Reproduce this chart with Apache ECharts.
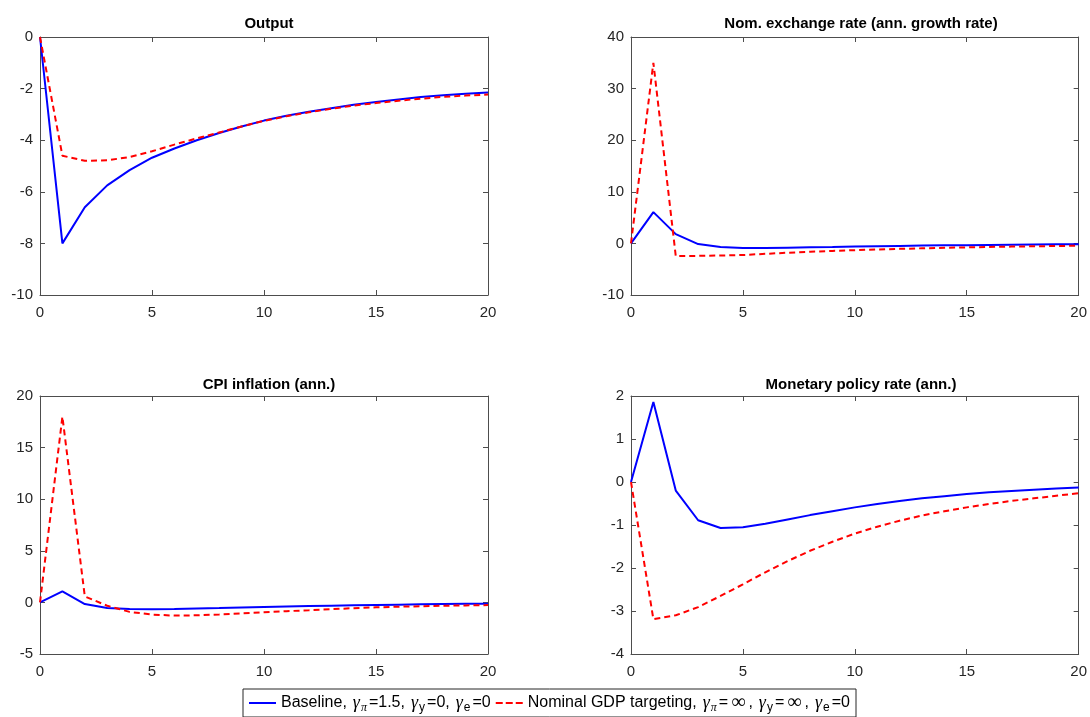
<!DOCTYPE html>
<html>
<head>
<meta charset="utf-8">
<script src="https://cdn.jsdelivr.net/npm/echarts@6/dist/echarts.min.js"></script>
<style>
html,body{margin:0;padding:0;background:#fff;}
#main{width:1090px;height:717px;}
</style>
</head>
<body>
<div id="main"></div>
<script>
// ---- Data ----
const periods = [0,1,2,3,4,5,6,7,8,9,10,11,12,13,14,15,16,17,18,19,20];

const panelTitles = ['Output','Nom. exchange rate (ann. growth rate)','CPI inflation (ann.)','Monetary policy rate (ann.)'];
const seriesNames = ['Baseline','Nominal GDP targeting'];

const outputBaseline = [0,-8.0,-6.6,-5.75,-5.16,-4.68,-4.32,-4.0,-3.72,-3.47,-3.24,-3.05,-2.9,-2.76,-2.63,-2.52,-2.42,-2.33,-2.26,-2.2,-2.15];
const outputNGDP     = [0,-4.6,-4.8,-4.78,-4.65,-4.43,-4.17,-3.93,-3.7,-3.47,-3.25,-3.07,-2.92,-2.78,-2.66,-2.56,-2.47,-2.39,-2.32,-2.27,-2.23];

const fxBaseline = [0,6.06,1.8,-0.13,-0.7,-0.9,-0.88,-0.82,-0.75,-0.68,-0.6,-0.54,-0.48,-0.43,-0.38,-0.34,-0.3,-0.26,-0.22,-0.18,-0.15];
const fxNGDP     = [0,35.0,-2.45,-2.42,-2.35,-2.25,-2.02,-1.81,-1.63,-1.46,-1.31,-1.18,-1.06,-0.95,-0.85,-0.77,-0.69,-0.62,-0.56,-0.5,-0.45];

const cpiBaseline = [0,1.06,-0.16,-0.55,-0.65,-0.66,-0.63,-0.59,-0.55,-0.5,-0.45,-0.4,-0.36,-0.32,-0.28,-0.25,-0.22,-0.19,-0.16,-0.14,-0.12];
const cpiNGDP     = [0,18.0,0.58,-0.32,-0.92,-1.18,-1.28,-1.25,-1.17,-1.06,-0.95,-0.85,-0.76,-0.66,-0.56,-0.48,-0.42,-0.37,-0.33,-0.29,-0.26];

const rateBaseline = [0,1.86,-0.2,-0.89,-1.07,-1.05,-0.97,-0.87,-0.77,-0.68,-0.59,-0.51,-0.44,-0.38,-0.33,-0.28,-0.24,-0.21,-0.18,-0.15,-0.13];
const rateNGDP     = [0,-3.19,-3.1,-2.91,-2.65,-2.38,-2.1,-1.84,-1.6,-1.39,-1.2,-1.04,-0.9,-0.78,-0.68,-0.59,-0.51,-0.44,-0.38,-0.32,-0.26];

const yRanges = [[-10,0,2],[-10,40,10],[-5,20,5],[-4,2,1]];
const panelData = [[outputBaseline,outputNGDP],[fxBaseline,fxNGDP],[cpiBaseline,cpiNGDP],[rateBaseline,rateNGDP]];

// ---- Layout ----
const grids = [
  {left:40, top:37, width:448, height:258},
  {left:631, top:37, width:450, height:258},
  {left:40, top:396, width:448, height:258},
  {left:631, top:396, width:450, height:258}
];
const titleTops = [11,11,372,372];

const FONT = '"Liberation Sans", Arial, Helvetica, sans-serif';
const SERIF = '"Liberation Serif","DejaVu Serif",serif';
const axisColor = '#4d4d4d';
const labelColor = '#262626';

const option = {
  animation:false,
  backgroundColor:'#fff',
  title: panelTitles.map((t,i)=>({
    text:t,
    left: grids[i].left + grids[i].width/2,
    top: titleTops[i],
    textAlign:'center',
    textStyle:{fontFamily:FONT,fontSize:15,fontWeight:'bold',color:'#000'}
  })),
  grid: grids.map(g=>Object.assign({containLabel:false},g)),
  xAxis: [],
  yAxis: [],
  series: [],
  legend: {
    data: [
      {name:seriesNames[0], icon:'path://M0,0H27V2H0Z'},
      {name:seriesNames[1], icon:'path://M0,0H7V2H0Z M10,0H17V2H10Z M20,0H27V2H20Z'}
    ],
    left: 243,
    top: 689,
    orient:'horizontal',
    itemWidth:27,
    itemHeight:2,
    itemGap:5,
    padding:[3,6,3,6],
    borderColor:'#262626',
    borderWidth:1,
    backgroundColor:'#fff',
    selectedMode:false,
    textStyle:{
      fontFamily:FONT, fontSize:16, color:'#000', lineHeight:22,
      rich:{
        g:{fontFamily:SERIF,fontStyle:'italic',fontSize:18,lineHeight:22,padding:[0,0,0,6],color:'#000'},
        s:{fontFamily:FONT,fontSize:12,lineHeight:12,padding:[10,2,0,1],color:'#000'},
        si:{fontFamily:SERIF,fontStyle:'italic',fontSize:12,lineHeight:12,padding:[10,2,0,1],color:'#000'},
        inf:{fontFamily:SERIF,fontSize:20,lineHeight:22,padding:[0,3,0,3],color:'#000'}
      }
    },
    formatter: function(name){
      if(name===seriesNames[0]){
        return 'Baseline,{g|γ}{si|π}=1.5,{g|γ}{s|y}=0,{g|γ}{s|e}=0';
      }
      return 'Nominal GDP targeting,{g|γ}{si|π}={inf|∞},{g|γ}{s|y}={inf|∞},{g|γ}{s|e}=0';
    }
  }
};

for(let i=0;i<4;i++){
  const [ymin,ymax,yint] = yRanges[i];
  option.xAxis.push({
    type:'value', gridIndex:i, min:0, max:20, interval:5, position:'bottom',
    axisLine:{show:true,onZero:false,lineStyle:{color:axisColor,width:1}},
    axisTick:{show:true,inside:true,length:5,lineStyle:{color:axisColor}},
    splitLine:{show:false},
    axisLabel:{show:true,fontFamily:FONT,fontSize:15,color:labelColor,margin:10,showMinLabel:true,showMaxLabel:true}
  });
  option.xAxis.push({
    type:'value', gridIndex:i, min:0, max:20, interval:5, position:'top',
    axisLine:{show:true,onZero:false,lineStyle:{color:axisColor,width:1}},
    axisTick:{show:true,inside:true,length:5,lineStyle:{color:axisColor}},
    splitLine:{show:false},
    axisLabel:{show:false}
  });
  option.yAxis.push({
    type:'value', gridIndex:i, min:ymin, max:ymax, interval:yint, position:'left',
    axisLine:{show:true,onZero:false,lineStyle:{color:axisColor,width:1}},
    axisTick:{show:true,inside:true,length:5,lineStyle:{color:axisColor}},
    splitLine:{show:false},
    axisLabel:{show:true,fontFamily:FONT,fontSize:15,color:labelColor,margin:7,showMinLabel:true,showMaxLabel:true}
  });
  option.yAxis.push({
    type:'value', gridIndex:i, min:ymin, max:ymax, interval:yint, position:'right',
    axisLine:{show:true,onZero:false,lineStyle:{color:axisColor,width:1}},
    axisTick:{show:true,inside:true,length:5,lineStyle:{color:axisColor}},
    splitLine:{show:false},
    axisLabel:{show:false}
  });
  const [base, ngdp] = panelData[i];
  option.series.push({
    name:seriesNames[0], type:'line', xAxisIndex:2*i, yAxisIndex:2*i,
    data: periods.map((t,k)=>[t,base[k]]),
    symbol:'none', lineStyle:{color:'#0000ff',width:2}, itemStyle:{color:'#0000ff'}, z:3
  });
  option.series.push({
    name:seriesNames[1], type:'line', xAxisIndex:2*i, yAxisIndex:2*i,
    data: periods.map((t,k)=>[t,ngdp[k]]),
    symbol:'none', lineStyle:{color:'#ff0000',width:2,type:[6,4]}, itemStyle:{color:'#ff0000'}, z:4
  });
}

const chart = echarts.init(document.getElementById('main'), null, {renderer:'canvas'});
chart.setOption(option);
</script>
</body>
</html>
